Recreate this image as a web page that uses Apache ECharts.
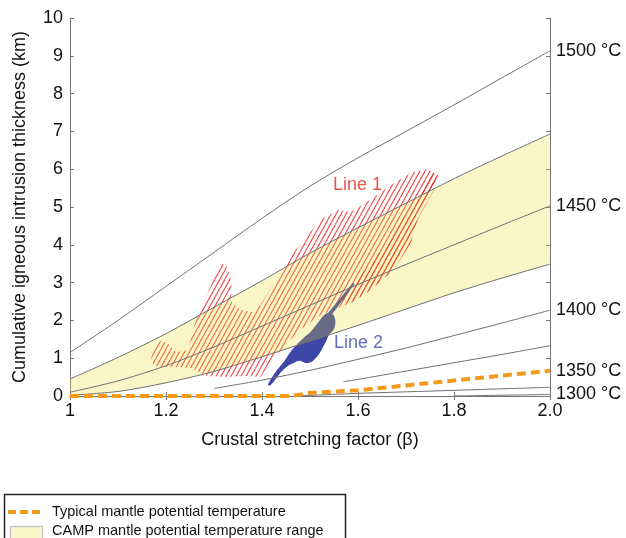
<!DOCTYPE html>
<html><head><meta charset="utf-8">
<script src="https://cdn.jsdelivr.net/npm/echarts@6/dist/echarts.min.js"></script>
<style>html,body{margin:0;padding:0;background:#fff}#c{width:626px;height:538px}</style>
</head><body><div id="c"></div>
<script>
// ---------- data ----------
const beta  = [1.0, 1.1, 1.2, 1.3, 1.4, 1.5, 1.6, 1.7, 1.8, 1.9, 2.0];
const t1500 = [1.15, 2.0, 2.9, 3.8, 4.7, 5.55, 6.3, 7.0, 7.7, 8.42, 9.13];
const t1475 = [0.45, 1.02, 1.65, 2.35, 3.05, 3.78, 4.45, 5.1, 5.75, 6.35, 6.93];
const t1450 = [0.1, 0.4, 0.8, 1.3, 1.85, 2.4, 2.95, 3.48, 4.0, 4.52, 5.03];
const t1425 = [0.02, 0.12, 0.35, 0.65, 1.04, 1.45, 1.87, 2.3, 2.73, 3.12, 3.49];
const t1400 = [[1.3,0.2],[1.4,0.42],[1.5,0.68],[1.6,0.97],[1.7,1.27],[1.8,1.6],[1.9,1.93],[2.0,2.27]];
const t1375 = [[1.57,0.38],[1.6,0.44],[1.7,0.66],[1.8,0.88],[1.9,1.1],[2.0,1.33]];
const t1325 = [[1.47,0.0],[1.6,0.07],[1.7,0.11],[1.8,0.15],[1.9,0.19],[2.0,0.23]];
const t1300 = [[1.8,0.0],[1.9,0.02],[2.0,0.04]];
const typical = [[1.0,0],[1.46,0],[1.5,0.08],[1.6,0.15],[1.7,0.28],[1.8,0.41],[1.9,0.54],[2.0,0.67]];

const xTicks = [1, 1.2, 1.4, 1.6, 1.8, 2.0];
const tempLabels = ['1500 °C', '1450 °C', '1400 °C', '1350 °C', '1300 °C'];

// Line 1 hatched outline (beta, km)
const line1Area = [[1.167,0.90],[1.173,1.19],[1.188,1.46],[1.203,1.40],[1.221,1.16],[1.246,1.22],
 [1.263,2.06],[1.288,2.75],[1.313,3.52],[1.326,3.44],[1.336,3.07],[1.336,2.49],[1.355,2.28],
 [1.380,2.22],[1.397,2.41],[1.418,2.86],[1.445,3.41],[1.470,3.86],[1.501,4.34],[1.522,4.66],
 [1.557,4.92],[1.585,4.87],[1.626,5.19],[1.662,5.53],[1.710,5.90],[1.745,6.01],[1.766,5.85],
 [1.758,5.45],[1.724,4.66],[1.710,4.05],[1.674,3.33],[1.626,2.80],[1.585,2.46],[1.522,2.14],
 [1.480,1.75],[1.449,1.35],[1.418,0.90],[1.397,0.50],[1.361,0.53],[1.324,0.50],[1.286,0.53],
 [1.251,0.74],[1.221,0.77],[1.184,0.77]];
const line1Dense = [[1.766,5.85],[1.758,5.45],[1.724,4.66],[1.710,4.05],[1.674,3.33],[1.626,2.80],
 [1.585,2.46],[1.564,2.54],[1.605,3.20],[1.658,3.99],[1.699,4.79],[1.731,5.45],[1.752,5.93]];
// Line 2 shape (one outline; the band tint makes its upper part grey)
const line2Area = [[1.412,0.29],[1.428,0.63],[1.445,0.90],[1.459,1.16],[1.474,1.38],[1.486,1.53],
 [1.501,1.69],[1.516,1.93],[1.528,2.12],[1.539,2.20],[1.549,2.14],[1.553,1.96],[1.549,1.75],
 [1.539,1.61],[1.534,1.46],[1.524,1.22],[1.514,1.03],[1.503,0.90],[1.491,0.87],[1.478,0.93],
 [1.466,0.87],[1.453,0.79],[1.438,0.61],[1.418,0.29]];
const line2Tail = [[1.534,2.14],[1.589,2.99],[1.593,2.96],[1.545,2.14]];
const labelLine1 = [1.599, 5.58];
const labelLine2 = [1.601, 1.40];

// ---------- helpers ----------
const FONT = '"Liberation Sans", Arial, Helvetica, sans-serif';
const zip = (xs, ys) => xs.map((x, i) => [x, ys[i]]);
function makeHatch(color) {
  const c = document.createElement('canvas');
  c.width = 5; c.height = 9;
  const g = c.getContext('2d');
  g.strokeStyle = color; g.lineWidth = 1.1;
  for (let k = -1; k <= 1; k++) { g.beginPath(); g.moveTo(k*5, 9); g.lineTo(k*5+5, 0); g.stroke(); }
  return c;
}
const hatch = {image: makeHatch('rgba(232,30,30,0.8)'), repeat: 'repeat'};

function polySeries(points, style, z, smooth) {
  return {
    type: 'custom', coordinateSystem: 'cartesian2d', silent: true, z: z, data: [[points[0][0], points[0][1]]],
    renderItem: (params, api) => ({
      type: 'polygon',
      shape: {points: points.map(p => api.coord(p)), smooth: smooth || 0},
      style: style
    })
  };
}
function grayLine(data, label) {
  const s = {type: 'line', data: data, showSymbol: false, symbol: 'none', smooth: 0.3, z: 6, silent: true,
    lineStyle: {color: '#707070', width: 1}};
  if (label) s.endLabel = {show: true, formatter: label, color: '#111', fontSize: 18, fontFamily: FONT, distance: 6};
  return s;
}
const bandPoly = zip(beta, t1475).concat(zip(beta, t1425).reverse());

const axisCommon = {axisLine: {lineStyle: {color: '#777', width: 1}}, axisTick: {inside: true, length: 4, lineStyle: {color: '#777'}}, splitLine: {show: false}};

const option = {
  animation: false,
  grid: {left: 70, right: 76, top: 18, bottom: 142},
  xAxis: [
    Object.assign({type: 'value', min: 1, max: 2, interval: 0.2, position: 'bottom',
      name: 'Crustal stretching factor (β)', nameLocation: 'middle', nameGap: 35,
      nameTextStyle: {fontSize: 18, color: '#111', fontFamily: FONT},
      axisLabel: {fontSize: 18, color: '#111', fontFamily: FONT, margin: 6,
        formatter: v => (xTicks.indexOf(+v.toFixed(1)) === 0 ? '1' : (+v).toFixed(1))}}, axisCommon),
    Object.assign({type: 'value', min: 1, max: 2, interval: 0.2, position: 'top', axisLabel: {show: false}}, axisCommon)
  ],
  yAxis: [
    Object.assign({type: 'value', min: 0, max: 10, interval: 1, position: 'left',
      name: 'Cumulative igneous intrusion thickness (km)', nameLocation: 'middle', nameGap: 41,
      nameTextStyle: {fontSize: 18, color: '#111', fontFamily: FONT},
      axisLabel: {fontSize: 18, color: '#111', fontFamily: FONT, margin: 7}}, axisCommon),
    Object.assign({type: 'value', min: 0, max: 10, interval: 1, position: 'right', axisLabel: {show: false}}, axisCommon)
  ],
  series: [
    polySeries(line1Area, {fill: hatch, stroke: 'none'}, 2),
    polySeries(line1Dense, {fill: hatch, stroke: 'none'}, 3),
    polySeries(line2Area, {fill: '#3d47a8', stroke: 'none'}, 4, 0.3),
    polySeries(line2Tail, {fill: '#3d47a8', stroke: 'none'}, 4),
    polySeries(bandPoly, {fill: 'rgba(235,219,35,0.25)', stroke: 'none'}, 5),
    grayLine(zip(beta, t1500), tempLabels[0]),
    grayLine(zip(beta, t1475)),
    grayLine(zip(beta, t1450), tempLabels[1]),
    grayLine(zip(beta, t1425)),
    grayLine(t1400, tempLabels[2]),
    grayLine(t1375),
    grayLine(t1325),
    grayLine(t1300, tempLabels[4]),
    {type: 'line', data: typical, showSymbol: false, symbol: 'none', z: 7, silent: true, clip: false,
      lineStyle: {color: '#f39a1a', width: 4, type: [9, 5]},
      endLabel: {show: true, formatter: tempLabels[3], color: '#111', fontSize: 18, fontFamily: FONT, distance: 6}},
    {type: 'scatter', symbolSize: 0, z: 8, silent: true,
      data: [{value: labelLine1, label: {show: true, position: 'inside', formatter: 'Line 1', color: '#e22a20', fontSize: 18, fontFamily: FONT}},
             {value: labelLine2, label: {show: true, position: 'inside', formatter: 'Line 2', color: '#3d48ad', fontSize: 18, fontFamily: FONT}}]}
  ],
  graphic: [
    {type: 'rect', z: 10, shape: {x: 4.5, y: 494.5, width: 341, height: 60}, style: {fill: '#fff', stroke: '#222', lineWidth: 1.5}},
    {type: 'line', z: 11, shape: {x1: 8, y1: 512, x2: 41, y2: 512}, style: {stroke: '#f39a1a', lineWidth: 4, lineDash: [8, 4]}},
    {type: 'text', z: 11, x: 52, y: 512, style: {text: 'Typical mantle potential temperature', fontSize: 14.5, fontFamily: FONT, fill: '#111', verticalAlign: 'middle'}},
    {type: 'rect', z: 11, shape: {x: 10.5, y: 526.5, width: 32, height: 16}, style: {fill: '#f9f6ca', stroke: '#c8c8c8', lineWidth: 1.5}},
    {type: 'text', z: 11, x: 52, y: 531, style: {text: 'CAMP mantle potential temperature range', fontSize: 14.5, fontFamily: FONT, fill: '#111', verticalAlign: 'middle'}}
  ]
};
const chart = echarts.init(document.getElementById('c'), null, {renderer: 'canvas'});
chart.setOption(option);
</script>
</body></html>
